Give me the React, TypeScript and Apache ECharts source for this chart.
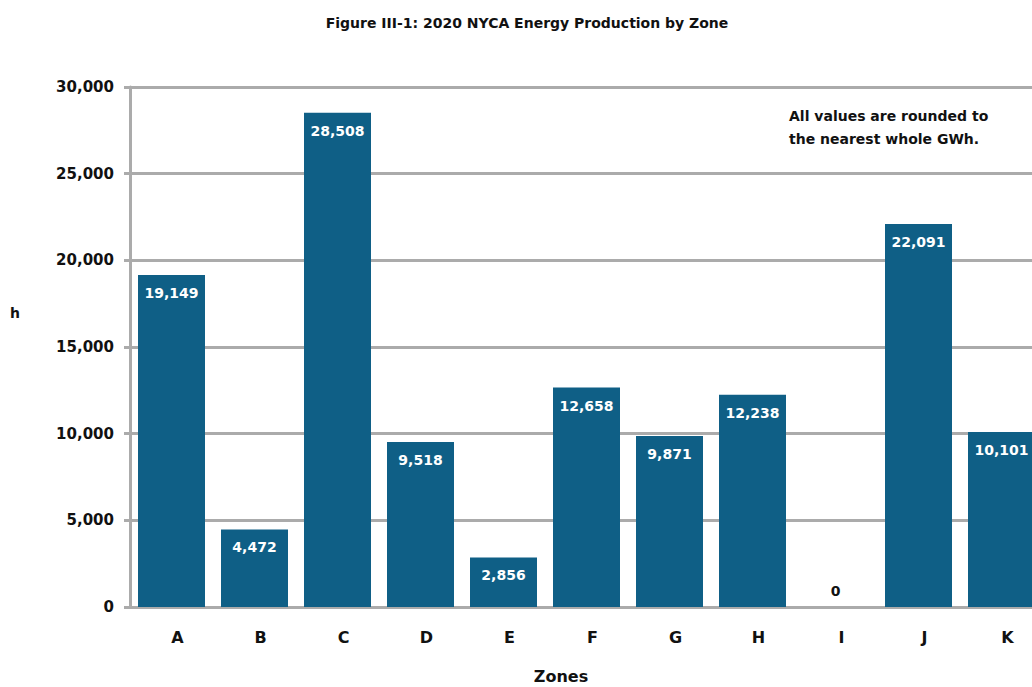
import React, { useEffect, useRef } from "react";
import * as echarts from "echarts";

const zones = ["A", "B", "C", "D", "E", "F", "G", "H", "I", "J", "K"];
const production = [19149, 4472, 28508, 9518, 2856, 12658, 9871, 12238, 0, 22091, 10101];
const yTicks = [0, 5000, 10000, 15000, 20000, 25000, 30000];

const FONT = "'DejaVu Sans', 'Liberation Sans', sans-serif";
const BAR = "#0f5f86";
const GRID_GRAY = "#ababab";

export default function App() {
  const ref = useRef<HTMLDivElement>(null);
  useEffect(() => {
    if (!ref.current) return;
    const chart = echarts.init(ref.current, null, { renderer: "svg" });
    const fmt = (v: number) => v.toLocaleString("en-US");
    chart.setOption({
      animation: false,
      backgroundColor: "#ffffff",
      textStyle: { fontFamily: FONT },
      title: {
        text: "Figure III-1: 2020 NYCA Energy Production by Zone",
        left: 522,
        top: 11,
        textAlign: "center",
        textStyle: { fontFamily: FONT, fontSize: 14, fontWeight: "bold", color: "#111" },
      },
      grid: { left: 130, right: 2, top: 87, bottom: 80, containLabel: false, outerBoundsMode: "none" },
      xAxis: {
        type: "category",
        data: zones,
        axisLine: { show: true, lineStyle: { color: GRID_GRAY, width: 3 } },
        axisTick: { show: false },
        axisLabel: {
          margin: 22,
          fontFamily: FONT,
          fontSize: 16,
          fontWeight: "bold",
          color: "#111",
          padding: [0, 0, 0, 12],
        },
      },
      yAxis: {
        type: "value",
        min: yTicks[0],
        max: yTicks[yTicks.length - 1],
        interval: yTicks[1] - yTicks[0],
        axisLine: { show: true, lineStyle: { color: GRID_GRAY, width: 3 } },
        axisTick: { show: true, length: 6, lineStyle: { color: GRID_GRAY, width: 3 } },
        splitLine: { show: true, lineStyle: { color: GRID_GRAY, width: 3 } },
        axisLabel: {
          margin: 16,
          fontFamily: FONT,
          fontSize: 15,
          fontWeight: "bold",
          color: "#111",
          formatter: (v: number) => fmt(v),
        },
      },
      series: [
        {
          type: "bar",
          barWidth: 67,
          itemStyle: { color: BAR },
          label: {
            show: true,
            position: "insideTop",
            distance: 11,
            color: "#ffffff",
            fontFamily: FONT,
            fontSize: 14,
            fontWeight: "bold",
            formatter: (p: any) => fmt(p.value),
          },
          data: production.map((v) =>
            v === 0
              ? { value: v, label: { position: "top", distance: 9, color: "#111" } }
              : { value: v }
          ),
        },
      ],
      graphic: [
        {
          type: "text",
          left: 789,
          top: 104,
          style: {
            text: "All values are rounded to\nthe nearest whole GWh.",
            fontFamily: FONT,
            fontSize: 14,
            fontWeight: "bold",
            lineHeight: 23,
            fill: "#111",
          },
        },
        {
          type: "text",
          x: 20,
          y: 313,
          style: {
            text: "h",
            fontFamily: FONT,
            fontSize: 14,
            fontWeight: "bold",
            fill: "#111",
            align: "right",
            verticalAlign: "middle",
          },
        },
        {
          type: "text",
          x: 561,
          y: 676,
          style: {
            text: "Zones",
            fontFamily: FONT,
            fontSize: 16,
            fontWeight: "bold",
            fill: "#111",
            align: "center",
            verticalAlign: "middle",
          },
        },
      ],
    });
    return () => chart.dispose();
  }, []);
  return (
    <div style={{ position: "fixed", left: 0, top: 0, width: 1032, height: 687, overflow: "hidden", background: "#fff" }}>
      <div ref={ref} style={{ width: 1045, height: 687 }} />
    </div>
  );
}
